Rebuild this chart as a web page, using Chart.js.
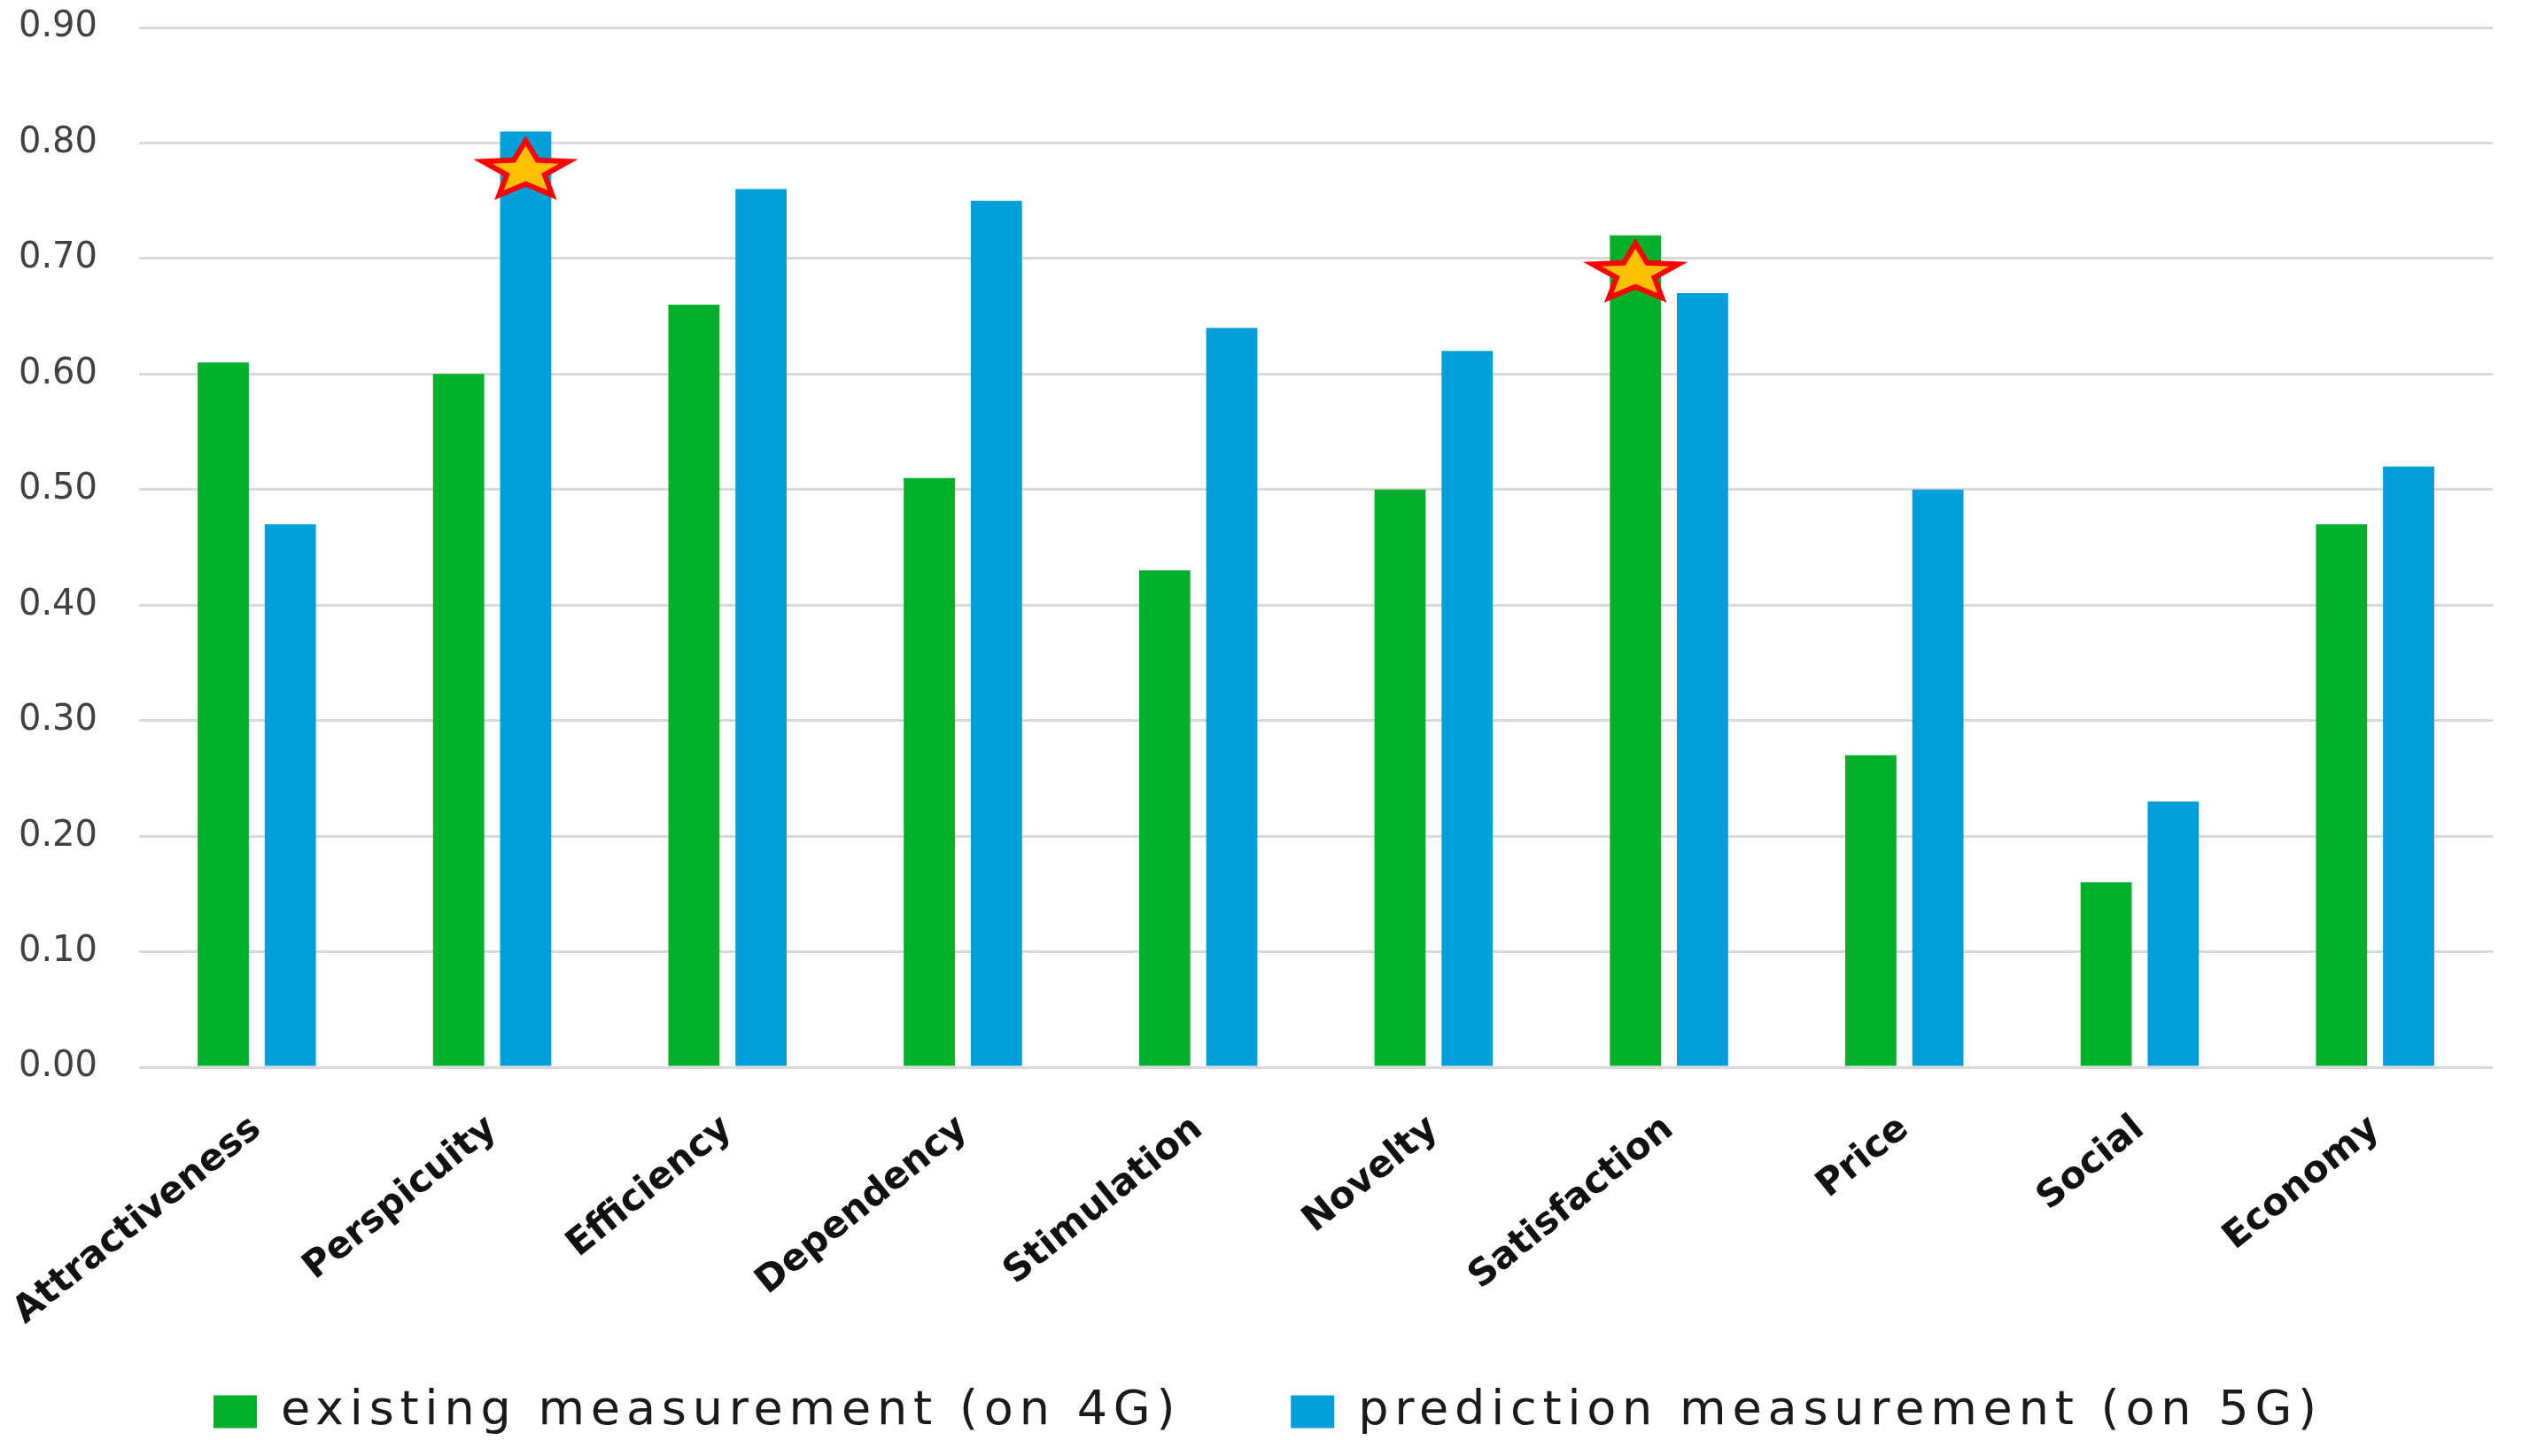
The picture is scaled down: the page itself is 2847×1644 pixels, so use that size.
<!DOCTYPE html>
<html>
<head>
<meta charset="utf-8">
<script src="https://cdn.jsdelivr.net/npm/chart.js@4"></script>
<style>
  html, body { margin: 0; padding: 0; background: #ffffff; }
  #wrap { width: 2847px; height: 1644px; }
</style>
</head>
<body>
<div id="wrap"><canvas id="c"></canvas></div>
<script>
const categories = ['Attractiveness', 'Perspicuity', 'Efficiency', 'Dependency', 'Stimulation',
                    'Novelty', 'Satisfaction', 'Price', 'Social', 'Economy'];
const existing4G   = [0.61, 0.60, 0.66, 0.51, 0.43, 0.50, 0.72, 0.27, 0.16, 0.47];
const prediction5G = [0.47, 0.81, 0.76, 0.75, 0.64, 0.62, 0.67, 0.50, 0.23, 0.52];
const seriesNames  = ['existing measurement (on 4G)', 'prediction measurement (on 5G)'];
const yMin = 0, yMax = 0.9, yStep = 0.1;
// star markers: category, series index (0 = 4G, 1 = 5G), value where the star sits
const starCategories = ['Perspicuity', 'Satisfaction'];
const starSeries     = [1, 0];
const starValues     = [0.776, 0.687];

const starPlugin = {
  id: 'stars',
  afterDatasetsDraw(chart) {
    const ctx = chart.ctx;
    const ys = chart.scales.y;
    starCategories.forEach((cat, k) => {
      const idx = categories.indexOf(cat);
      const bar = chart.getDatasetMeta(starSeries[k]).data[idx];
      if (!bar) return;
      const cx = bar.x, cy = ys.getPixelForValue(starValues[k]);
      const R = 34, r = R * 0.44, sx = 1.5;
      ctx.save();
      ctx.beginPath();
      for (let i = 0; i < 10; i++) {
        const a = i * Math.PI / 5;
        const rr = (i % 2) ? r : R;
        const px = cx + sx * rr * Math.sin(a);
        const py = cy - rr * Math.cos(a);
        if (i === 0) ctx.moveTo(px, py); else ctx.lineTo(px, py);
      }
      ctx.closePath();
      ctx.fillStyle = '#FFC000';
      ctx.fill();
      ctx.lineWidth = 6;
      ctx.lineJoin = 'miter';
      ctx.strokeStyle = '#FF0000';
      ctx.stroke();
      ctx.restore();
    });
  }
};

const legendSpacing = {
  id: 'legendSpacing',
  afterInit(chart) {
    const lg = chart.legend;
    if (!lg) return;
    const wrap = (fn, shift) => function (...a) {
      const c = this.ctx;
      c.save();
      c.letterSpacing = '6.8px';
      if (shift) c.translate(shift, 0);
      try { return fn.apply(this, a); } finally { c.restore(); }
    };
    lg.fit = wrap(lg.fit, 0);
    lg.draw = wrap(lg.draw, 14);
  }
};

new Chart(document.getElementById('c'), {
  type: 'bar',
  data: {
    labels: categories,
    datasets: [
      { label: seriesNames[0], data: existing4G, backgroundColor: '#00AF2A', borderWidth: 0,
        categoryPercentage: 0.57, barPercentage: 0.763 },
      { label: seriesNames[1], data: prediction5G, backgroundColor: '#009FDB', borderWidth: 0,
        categoryPercentage: 0.57, barPercentage: 0.763 }
    ]
  },
  options: {
    responsive: true,
    maintainAspectRatio: false,
    devicePixelRatio: 1,
    animation: false,
    layout: { padding: { top: 31, left: 21, right: 33, bottom: 13 } },
    plugins: {
      tooltip: { enabled: false },
      legend: {
        position: 'bottom',
        labels: {
          boxWidth: 49,
          boxHeight: 37,
          padding: 52,
          color: '#1a1a1a',
          font: { family: 'DejaVu Sans', size: 54 },
          generateLabels(chart) {
            const items = Chart.defaults.plugins.legend.labels.generateLabels(chart);
            return items.map((it, i) => (i === 0 ? Object.assign({}, it, { text: it.text + '   ' }) : it));
          }
        }
      }
    },
    scales: {
      x: {
        grid: { display: false, drawTicks: true, tickLength: 45 },
        border: { display: false },
        ticks: {
          minRotation: 39,
          maxRotation: 39,
          padding: 0,
          color: '#111111',
          font: { family: 'DejaVu Sans', size: 42, weight: 'bold' }
        },
        afterFit(s) {
          s.height = 310;
          s.paddingLeft = 0;
          s.paddingRight = 0;
        }
      },
      y: {
        min: yMin,
        max: yMax,
        grid: { color: '#d9d9d9', lineWidth: 3, drawTicks: false },
        border: { display: false },
        ticks: {
          stepSize: yStep,
          padding: 47,
          color: '#404040',
          font: { family: 'DejaVu Sans', size: 40 },
          callback: (v) => Number(v).toFixed(2)
        },
        afterFit(s) { s.width = 136; s.paddingTop = 0; s.paddingBottom = 0; }
      }
    }
  },
  plugins: [starPlugin, legendSpacing]
});
</script>
</body>
</html>
